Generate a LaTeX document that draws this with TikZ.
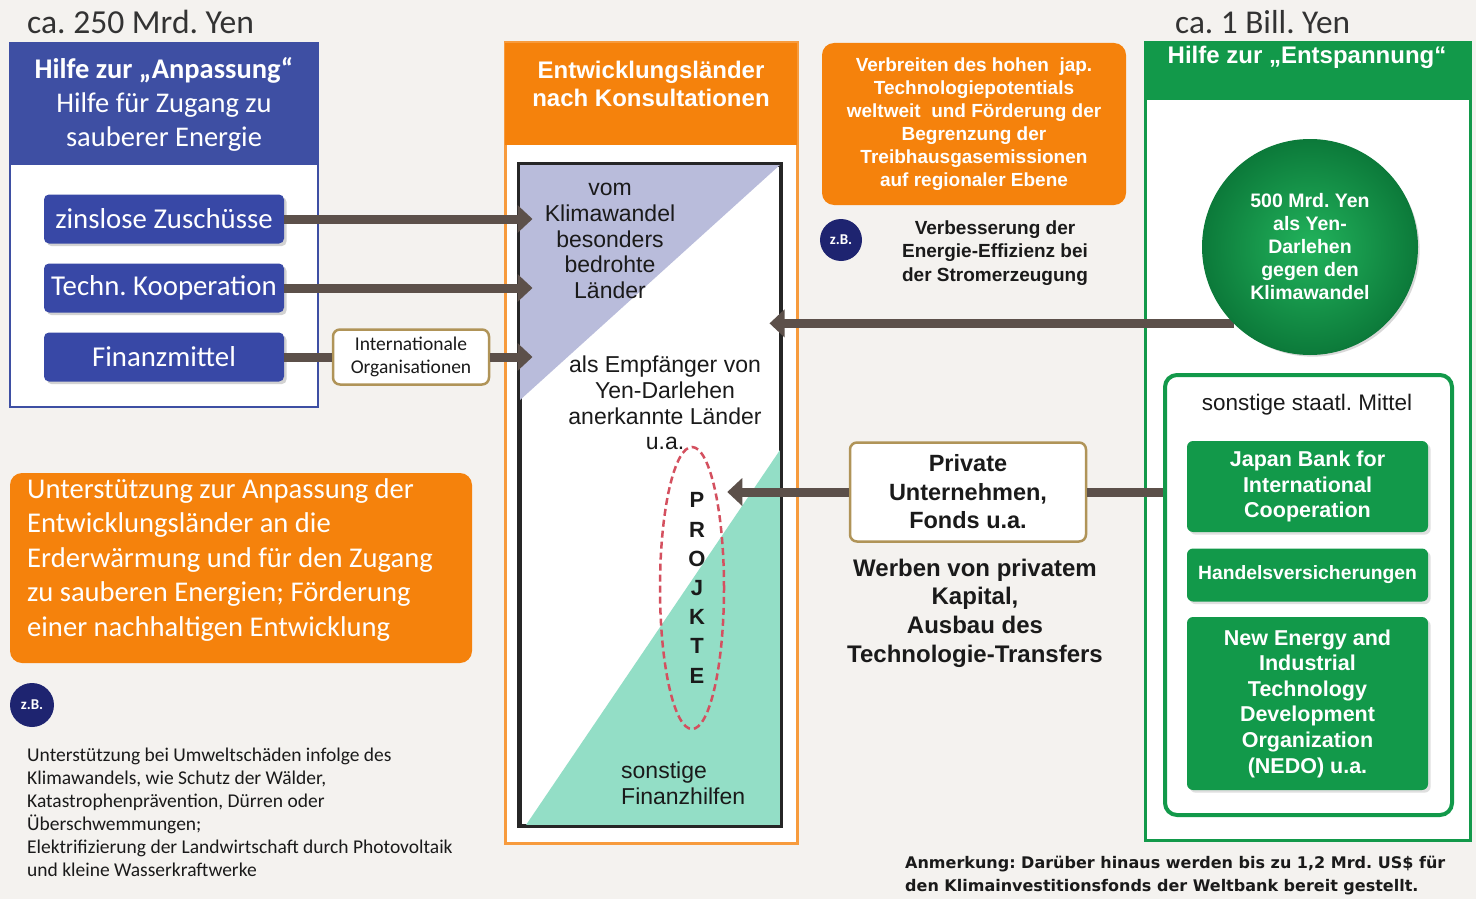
\documentclass[tikz,border=0pt]{standalone}
\usepackage{fontspec}
\setmainfont{Liberation Sans}
\newfontfamily\carl{Carlito}
\newfontfamily\dejav{DejaVu Sans}
\usetikzlibrary{arrows.meta,shadows,shapes.geometric}
\frenchspacing
\definecolor{bgc}{HTML}{F4F2EF}
\definecolor{blu}{HTML}{3E4FA3}
\definecolor{blubtn}{HTML}{3848A6}
\definecolor{org}{HTML}{F5820C}
\definecolor{grn}{HTML}{12994A}
\definecolor{grnlight}{HTML}{22B35C}
\definecolor{grndark}{HTML}{0C7A3A}
\definecolor{arr}{HTML}{5C504A}
\definecolor{lav}{HTML}{B9BCDB}
\definecolor{mint}{HTML}{93DEC6}
\definecolor{navy}{HTML}{1E2470}
\definecolor{gold}{HTML}{B09458}
\definecolor{redd}{HTML}{D4505F}
\definecolor{txt}{HTML}{1A1A1A}
\pgfdeclarelayer{front}
\pgfsetlayers{main,front}
\newcommand{\fs}[2]{\fontsize{#1}{#2}\selectfont}
\tikzset{
  bigarrow/.style={draw=arr, line width=9pt, -{Triangle[length=15pt,width=27pt]}},
  bigline/.style={draw=arr, line width=9pt},
  btn/.style={fill=blubtn, rounded corners=5pt, minimum width=240pt, minimum height=49pt,
    text=white, font=\carl\fs{28.8}{32}, drop shadow={opacity=0.35}},
  greenbtn/.style={fill=grn, rounded corners=6pt, minimum width=241pt, text=white,
    align=center, drop shadow={opacity=0.25}},
  whitebox/.style={fill=white, draw=gold, line width=2.5pt, rounded corners=7pt},
  zbcirc/.style={circle, fill=navy, text=white, inner sep=0pt, font=\carl\bfseries\fs{15}{16}},
  plain/.style={inner sep=0pt, align=center, text=txt},
}
\begin{document}
\begin{tikzpicture}[x=1pt,y=-1pt]
\fill[bgc] (0,0) rectangle (1476,899);
\useasboundingbox (0,0) rectangle (1476,899);

% titles
\node[plain, anchor=west, text=black!80, font=\carl\fs{33.6}{38}] (t1) at (27,22) {ca. 250 Mrd. Yen};
\node[plain, anchor=west, text=black!80, font=\carl\fs{33.3}{38}] (t2) at (1175,22) {ca. 1 Bill. Yen};

% left blue box
\node[draw=blu, line width=2pt, fill=white, minimum width=308pt, minimum height=364pt, inner sep=0pt] (lbox) at (164,225) {};
\node[fill=blu, minimum width=308pt, minimum height=122pt, inner sep=0pt, text=white, align=center, font=\carl\fs{28.5}{34}] (lhead) at (164,104)
  {{\bfseries Hilfe zur „Anpassung“}\\Hilfe für Zugang zu\\sauberer Energie};
\node[btn] (zins) at (164,219) {zinslose Zuschüsse};
\node[btn] (tech) at (164,288) {Techn. Kooperation};
\node[btn] (fin) at (164,357) {Finanzmittel};

% middle orange box
\node[draw=org!80, line width=3pt, fill=white, minimum width=292pt, minimum height=800pt, inner sep=0pt] (mbox) at (651,443) {};
\node[fill=org, minimum width=292pt, minimum height=102pt, inner sep=0pt] (mhead) at (651,94) {};
\node[plain, text=white, font=\bfseries\fs{24}{28}] (mtitle) at (651,84) {Entwicklungsländer\\nach Konsultationen};
\node[draw=black!85, line width=3pt, fill=white, minimum width=260pt, minimum height=660pt, inner sep=0pt] (inner) at (650,495) {};
\fill[lav] (inner.north west) -- (inner.north east) -- (520,400) -- cycle;
\fill[mint] (780,450) -- (inner.south east) -- (526,825) -- cycle;
\draw[black!85, line width=3pt] (inner.north west) rectangle (inner.south east);
\node[plain, font=\fs{23}{25.7}] (bedroht) at (610,241) {vom\\Klimawandel\\besonders\\bedrohte\\Länder};
\node[plain, font=\fs{23}{25.7}] (empf) at (665,403) {als Empfänger von\\Yen-Darlehen\\anerkannte Länder\\u.a.};
\node[ellipse, draw=redd, line width=2.5pt, dash pattern=on 7pt off 4pt, minimum width=64pt, minimum height=282pt, inner sep=0pt] (ell) at (692,588) {};
\node[plain, font=\bfseries\fs{22}{29.2}] (proj) at (697,588) {P\\R\\O\\J\\K\\T\\E};
\node[plain, anchor=west, align=left, font=\fs{23}{25.7}] (sonst) at (621,783) {sonstige\\Finanzhilfen};

% left arrows
\node[whitebox, minimum width=156pt, minimum height=55pt, inner sep=2pt, align=center, font=\carl\fs{19.5}{23}, text=txt] (intl) at (411,357) {Internationale\\Organisationen};
\draw[bigarrow, shorten >=-14pt] (zins.east) -- (zins.east -| inner.west);
\draw[bigarrow, shorten >=-14pt] (tech.east) -- (tech.east -| inner.west);
\draw[bigline] (fin.east) -- (intl.west);
\draw[bigarrow, shorten >=-14pt] (intl.east) -- (intl.east -| inner.west);

% top right orange
\node[fill=org, rounded corners=12pt, minimum width=304pt, minimum height=162pt, inner sep=0pt, text=white, align=center, font=\bfseries\fs{19}{23}] (otr) at (974,124)
  {Verbreiten des hohen\ \ jap.\\Technologiepotentials\\weltweit\ \ und Förderung der\\Begrenzung der\\Treibhausgasemissionen\\auf regionaler Ebene};
\node[zbcirc, minimum size=42pt] (zb1) at (841,240) {z.B.};
\node[plain, font=\bfseries\fs{19}{23.5}] (verb) at (995,253) {Verbesserung der\\Energie-Effizienz bei\\der Stromerzeugung};

% green box
\node[draw=grn, line width=3pt, fill=white, minimum width=325pt, minimum height=797pt, inner sep=0pt] (gbox) at (1307.5,441.5) {};
\node[fill=grn, minimum width=325pt, minimum height=57pt, inner sep=0pt] (ghead) at (1307.5,71.5) {};
\node[plain, text=white, font=\bfseries\fs{24}{26}] (gtitle) at (1307,57) {Hilfe zur „Entspannung“};
\begin{pgfonlayer}{front}
\node[circle, inner color=grnlight, outer color=grndark, draw=grndark, line width=2pt, minimum size=214pt, inner sep=0pt, drop shadow={opacity=0.3}, text=white, align=center, font=\bfseries\fs{19.5}{23}] (circ) at (1310,247)
  {500 Mrd. Yen\\als Yen-\\Darlehen\\gegen den\\Klimawandel};
\end{pgfonlayer}
\draw[bigarrow, shorten >=-12pt] (circ.south west) -- (circ.south west -| inner.east);

\node[draw=grn, line width=4pt, fill=white, rounded corners=12pt, minimum width=287pt, minimum height=440pt, inner sep=0pt] (gin) at (1308.5,595) {};
\node[plain, font=\fs{22.5}{24}] (staatl) at (1307,405) {sonstige staatl. Mittel};
\node[greenbtn, minimum height=91pt, font=\bfseries\fs{21.5}{25.5}] (jbic) at (1307.5,486.5) {Japan Bank for\\International\\Cooperation};
\node[greenbtn, minimum height=53pt, inner sep=0pt, font=\bfseries\fs{19.3}{20}] (hv) at (1307.5,575) {Handelsversicherungen};
\node[greenbtn, minimum height=173pt, font=\bfseries\fs{21.5}{25.6}] (nedo) at (1307.5,703.5) {New Energy and\\Industrial\\Technology\\Development\\Organization\\(NEDO) u.a.};

% private
\node[whitebox, minimum width=236pt, minimum height=99pt, inner sep=0pt, align=center, font=\bfseries\fs{23.5}{28.5}, text=txt] (priv) at (968,492) {Private\\Unternehmen,\\Fonds u.a.};
\draw[bigline] (priv.east) -- (priv.east -| gin.west);
\draw[bigarrow, shorten >=2pt] (priv.west) -- (priv.west -| ell.east);
\node[plain, font=\bfseries\fs{24}{28.7}] (werb) at (975,613) {Werben von privatem\\Kapital,\\Ausbau des\\Technologie-Transfers};

% bottom left orange
\node[fill=org, rounded corners=12pt, minimum width=462pt, minimum height=190pt, inner sep=0pt] (obl) at (241,568) {};
\node[plain, anchor=west, align=left, text=white, font=\carl\fs{28.6}{34.5}] (oblt) at (27,560)
  {Unterstützung zur Anpassung der\\Entwicklungsländer an die\\Erderwärmung und für den Zugang\\zu sauberen Energien; Förderung\\einer nachhaltigen Entwicklung};
\node[zbcirc, minimum size=44pt] (zb2) at (32,705) {z.B.};
\node[plain, anchor=west, align=left, font=\carl\fs{19.5}{23}] (bsp) at (27,812.5)
  {Unterstützung bei Umweltschäden infolge des\\Klimawandels, wie Schutz der Wälder,\\Katastrophenprävention, Dürren oder\\Überschwemmungen;\\Elektrifizierung der Landwirtschaft durch Photovoltaik\\und kleine Wasserkraftwerke};

% note
\node[plain, anchor=west, align=left, font=\dejav\bfseries\fs{16}{23}] (note) at (905,875.5)
  {Anmerkung: Darüber hinaus werden bis zu 1,2 Mrd. US\$ für\\den Klimainvestitionsfonds der Weltbank bereit gestellt.};
\end{tikzpicture}
\end{document}
